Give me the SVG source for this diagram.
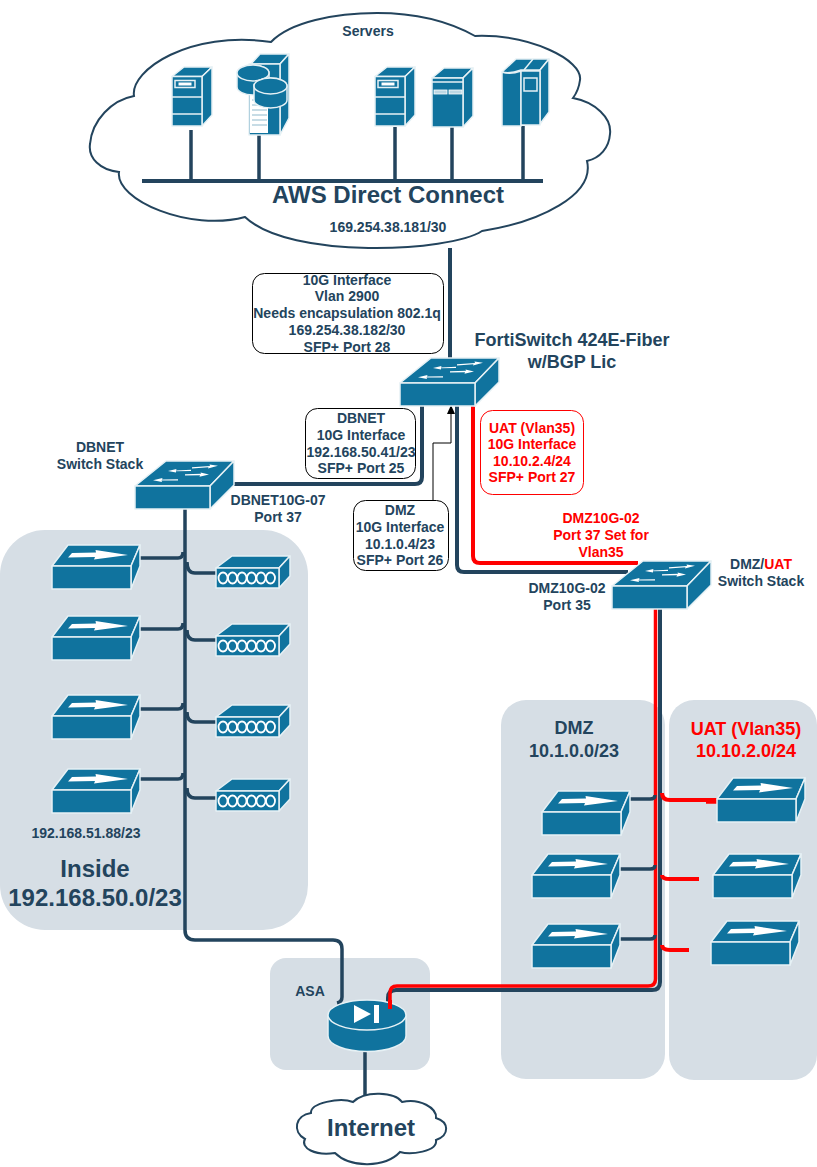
<svg xmlns="http://www.w3.org/2000/svg" width="817" height="1167" viewBox="0 0 817 1167">
<style>
text{font-family:"Liberation Sans",Arial,sans-serif;font-weight:bold;font-size:14px;fill:#23445d;text-anchor:middle}
.red,tspan.red{fill:#ff0000}
.big{font-size:24px}
.mid{font-size:18px}
.lg{font-size:18px}
.panel{fill:#d6dee5}
.d{fill:#10739e;stroke:#e6f1f5;stroke-width:1.5;stroke-linejoin:round}
.w{fill:#fff;stroke:none}
.wl{fill:none;stroke:#e6f1f5;stroke-width:1.5}
.wv{fill:none;stroke:#fff;stroke-width:1.8}
.cloud{fill:#fff;stroke:#23445d;stroke-width:2}
.lb{fill:#fff;stroke:#000;stroke-width:1}
.lr{fill:#fff;stroke:#ff0000;stroke-width:1}
.ln{fill:none;stroke:#23445d;stroke-width:4}
.lt{fill:none;stroke:#23445d;stroke-width:3.500}
.rd{fill:none;stroke:#ff0000;stroke-width:4}
.th{fill:none;stroke:#000;stroke-width:1}
</style>
<defs>
<g id="sw">
<path class="d" d="M0 25L31 0H99L75 25Z"/><path class="d" d="M99 0V24L75 48V25Z"/><rect class="d" x="0" y="25" width="75" height="23"/>
<path class="w" d="M57 6.200L75 5L74.500 3.500L83 4.800L73 7.500L73.500 6.200L57 7.400ZM56 8.800L41 9.500L41.500 8L33 10L41 11.500L41 10.300L56 10ZM50 13.200L66 12.800L65.500 11.500L74 13.500L64.500 15.800L65 14.300L50 14.400ZM43 18.200L27 18.400L27.500 17L18 19.200L27 21L26.500 19.600L43 19.400Z"/>
</g>
<g id="box">
<path class="d" d="M0 21L16 0H88L79 21Z"/><path class="d" d="M88 0V21L79 44V21Z"/><rect class="d" x="0" y="21" width="79" height="23"/>
<path class="w" d="M20 8L44 7.500L43.500 5L76 10L42 14.500L43 12L16 12.500Z"/>
</g>
<g id="hub">
<path class="d" d="M0 12L16 0H74L63 12Z"/><path class="d" d="M74 0V20L63 32V12Z"/><rect class="d" x="0" y="12" width="63" height="20"/>
<g class="wv"><ellipse cx="7" cy="22" rx="4.500" ry="5.500"/><ellipse cx="16.500" cy="22" rx="4.500" ry="5.500"/><ellipse cx="26" cy="22" rx="4.500" ry="5.500"/><ellipse cx="35.500" cy="22" rx="4.500" ry="5.500"/><ellipse cx="45" cy="22" rx="4.500" ry="5.500"/><ellipse cx="54.500" cy="22" rx="4.500" ry="5.500"/></g>
</g>
<g id="srv">
<path class="d" d="M0 9.500L12 0H40L30 9.500Z"/><path class="d" d="M40 0V48L30 59V9.500Z"/><rect class="d" x="0" y="9.500" width="30" height="49.500"/>
<path class="wl" d="M0 30H30M0 47H30"/><rect class="wl" x="3" y="13.500" width="20" height="7"/><rect class="w" x="6.500" y="15.500" width="13" height="3"/>
</g>
</defs>

<g id="panels">
<rect class="panel" x="0" y="530" width="308" height="400" rx="45"/>
<rect class="panel" x="501" y="700" width="164" height="379" rx="25"/>
<rect class="panel" x="669" y="700" width="148" height="380" rx="25"/>
<rect class="panel" x="270" y="958" width="160" height="112" rx="16"/>
</g>

<g id="aws-cloud">
<path class="cloud" d="M271 42C290 22 335 13 377 13C420 13 450 22 475 36C530 34 583 60 580 80C579 88 576 94 573 98C595 102 612 118 610 134C609 148 600 158 587 161C595 195 540 222 482 231C450 252 290 260 245 217C190 232 115 200 119 172C100 170 88 158 90 144C92 120 112 100 134 96C130 70 190 30 271 42Z"/>
<text x="368" y="36">Servers</text>
<text class="big" x="388" y="203">AWS Direct Connect</text>
<text x="388" y="232">169.254.38.181/30</text>
</g>

<g id="internet-cloud">
<path class="cloud" d="M311 1113C310 1103 340 1097 353 1102C365 1090 395 1092 402 1102C420 1098 437 1108 436 1118C449 1122 450 1135 436 1140C438 1152 410 1155 400 1152C385 1168 350 1168 335 1153C315 1156 300 1148 305 1139C292 1132 295 1115 311 1113Z"/>
<text class="big" x="371" y="1136">Internet</text>
</g>

<g id="connectors">
<path class="ln" d="M450 248V358"/>
<path class="ln" d="M422 406V477Q422 484 415 484H234"/>
<path class="ln" d="M457 406V565Q457 572 464 572H628"/>
<path class="rd" d="M473 406V556Q473 563 480 563H638"/>
<path class="th" d="M433 501V443H451V412"/>
<path d="M451 405L455 414H447Z" fill="#000"/>
<path class="ln" d="M660 609V982Q660 990 652 990H396Q388 990 388 998V1004"/>
<path class="rd" style="stroke-width:3.500" d="M655.500 609V979Q655.500 986 648 986H397Q390 986 390 993V1009"/>
<path class="lt" d="M630 799H650Q655 799 655 795M620 869H650Q655 869 655 865M620 939H650Q655 939 655 935"/>
<path class="rd" d="M662 793Q662 800 670 800H717M662 875Q662 879 670 879H699M662 945Q662 950 670 950H689"/>
<path class="rd" style="stroke-width:5.500" d="M706 801H717"/>
<path class="lt" d="M191 130V181M259 135V181M395 127V181M452 127V181M523 126V181"/>
<path class="ln" d="M142 181H543"/>
<path class="lt" d="M185 509V930Q185 940 195 940H333Q342 940 342 949V997Q342 1002 337 1003"/>
<path class="lt" d="M140 558H178Q183 558 183 552M140 629H178Q183 629 183 623M140 709H178Q183 709 183 703M140 779H178Q183 779 183 773"/>
<path class="lt" d="M187 562Q187 573 195 573H216M187 630Q187 640 195 640H216M187 712Q187 722 195 722H216M187 788Q187 798 195 798H216"/>
<path class="lt" d="M365 1050V1095"/>
</g>

<g id="server-1"><use href="#srv" x="172" y="67"/></g>
<g id="server-2">
<path class="d" d="M251 64L260 54H289L280 64Z"/><path class="d" d="M289 54V118L280 135V64Z"/><rect class="d" x="249" y="64" width="31" height="71"/>
<rect x="250" y="94" width="18" height="39" fill="#fff" stroke="none"/><path d="M252 100H267M252 105H267M252 110H267M252 115H267M252 120H267M252 125H267" stroke="#8fb9cc" stroke-width="1"/>
<path class="d" d="M237 73V87A16 8 0 0 0 269 87V73A16 8 0 0 0 237 73Z"/><ellipse class="d" cx="253" cy="73" rx="16" ry="8"/>
<path class="d" d="M254 86V100A16.500 8 0 0 0 287 100V86A16.500 8 0 0 0 254 86Z"/><ellipse class="d" cx="270.500" cy="86" rx="16.500" ry="8"/>
</g>
<g id="server-3"><use href="#srv" x="375" y="67"/></g>
<g id="server-4">
<path class="d" d="M432 78L444 68H473L463 78Z"/><path class="d" d="M473 68V116L463 127V78Z"/><rect class="d" x="432" y="78" width="31" height="49"/>
<path class="wl" d="M432 82H463"/><rect x="434" y="90" width="13" height="4" fill="#bcd7e3" stroke="#fff" stroke-width="0.800"/><rect x="449" y="90" width="13" height="4" fill="#bcd7e3" stroke="#fff" stroke-width="0.800"/>
</g>
<g id="server-5">
<path class="d" d="M502 72L516 59H549L540 70H521Q510 74 502 72Z"/><path class="d" d="M549 59V112L540 124V70Z"/>
<path class="d" d="M502 72Q510 75 521 71V126H502Z"/><rect class="d" x="521" y="71" width="19" height="54"/>
<rect class="wl" x="524" y="78" width="13" height="13"/><path class="wl" d="M533 59L524 70"/>
</g>

<g id="forti-switch"><use href="#sw" x="400" y="358"/>
<text class="lg" x="572" y="346">FortiSwitch 424E-Fiber</text><text class="lg" x="572" y="368">w/BGP Lic</text></g>
<g id="dbnet-switch"><use href="#sw" x="135" y="461"/>
<text x="100" y="452">DBNET</text><text x="100" y="469">Switch Stack</text></g>
<g id="dmz-switch"><use href="#sw" x="612" y="561"/>
<text x="761" y="569">DMZ/<tspan class="red">UAT</tspan></text><text x="761" y="586">Switch Stack</text></g>

<g id="label-wan"><rect class="lb" x="252.500" y="273.500" width="191" height="80" rx="12"/>
<text x="347" y="285">10G Interface</text><text x="347" y="301">Vlan 2900</text><text x="347" y="318">Needs encapsulation 802.1q</text><text x="347" y="335">169.254.38.182/30</text><text x="347" y="352">SFP+ Port 28</text></g>
<g id="label-dbnet"><rect class="lb" x="305.500" y="408.500" width="110" height="70" rx="12"/>
<text x="361" y="423">DBNET</text><text x="361" y="440">10G Interface</text><text x="361" y="457">192.168.50.41/23</text><text x="361" y="473">SFP+ Port 25</text></g>
<g id="label-dmz"><rect class="lb" x="353.500" y="500.500" width="95" height="70" rx="12"/>
<text x="400" y="515">DMZ</text><text x="400" y="532">10G Interface</text><text x="400" y="549">10.1.0.4/23</text><text x="400" y="565">SFP+ Port 26</text></g>
<g id="label-uat"><rect class="lr" x="480.500" y="410.500" width="103" height="84" rx="12"/>
<text class="red" x="532" y="433">UAT (Vlan35)</text><text class="red" x="532" y="449">10G Interface</text><text class="red" x="532" y="466">10.10.2.4/24</text><text class="red" x="532" y="482">SFP+ Port 27</text></g>

<g id="port-labels">
<text x="278" y="505">DBNET10G-07</text><text x="278" y="522">Port 37</text>
<text class="red" x="601" y="523">DMZ10G-02</text><text class="red" x="601" y="540">Port 37 Set for</text><text class="red" x="601" y="557">Vlan35</text>
<text x="567" y="593">DMZ10G-02</text><text x="567" y="610">Port 35</text>
</g>

<g id="inside-net">
<use href="#box" x="52" y="545"/><use href="#box" x="52" y="616"/><use href="#box" x="52" y="695"/><use href="#box" x="52" y="769"/>
<use href="#hub" x="216" y="556"/><use href="#hub" x="216" y="624"/><use href="#hub" x="216" y="705"/><use href="#hub" x="216" y="779"/>
<text x="86" y="838">192.168.51.88/23</text>
<text class="big" x="95" y="877">Inside</text><text class="big" x="95" y="906">192.168.50.0/23</text>
</g>
<g id="dmz-net">
<text class="mid" x="574" y="734">DMZ</text><text class="mid" x="574" y="757">10.1.0.0/23</text>
<use href="#box" x="542" y="791"/><use href="#box" x="532" y="854"/><use href="#box" x="532" y="924"/>
</g>
<g id="uat-net">
<text class="mid red" x="746" y="735">UAT (Vlan35)</text><text class="mid red" x="746" y="757">10.10.2.0/24</text>
<use href="#box" x="717" y="778"/><use href="#box" x="713" y="854"/><use href="#box" x="711" y="921"/>
</g>
<g id="asa">
<text x="310" y="996">ASA</text>
<path class="d" d="M328 1015V1036A39 15.500 0 0 0 406 1036V1015Z"/>
<ellipse class="d" cx="367" cy="1015" rx="39" ry="15"/>
<path class="w" d="M354 1005L371 1014L354 1023ZM374 1005H379V1023H374Z"/>
</g>
<path class="rd" d="M390 1000V1009"/>
</svg>
